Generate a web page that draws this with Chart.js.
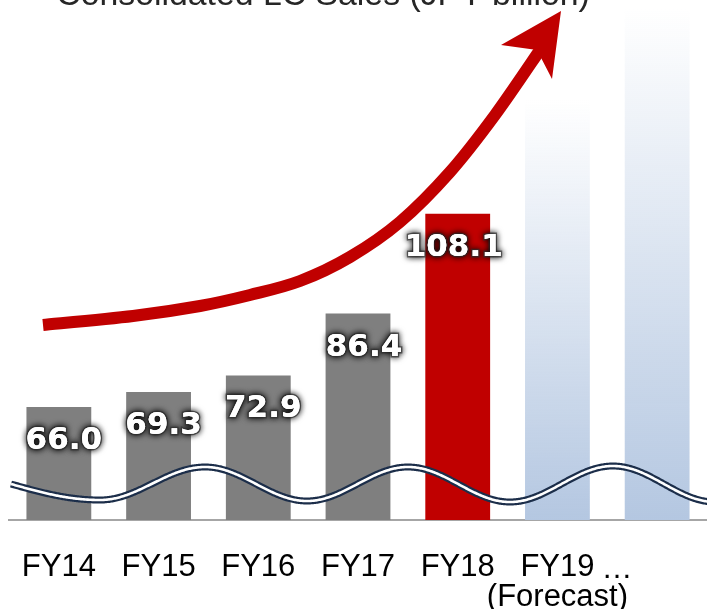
<!DOCTYPE html>
<html>
<head>
<meta charset="utf-8">
<script src="https://cdn.jsdelivr.net/npm/chart.js@4.4.1/dist/chart.umd.min.js"></script>
<style>
  html, body { margin: 0; padding: 0; background: #fff; }
  canvas { display: block; }
</style>
</head>
<body>
<canvas id="chart" width="707" height="609"></canvas>
<script>
// data (axis is broken, so it starts near 41)
const categories = ['FY14', 'FY15', 'FY16', 'FY17', 'FY18', ['FY19', '(Forecast)'], ''];
const actualSales = [66.0, 69.3, 72.9, 86.4, 108.1, null, null];
const forecastSales = [null, null, null, null, null, 133, 153];
const actualColors = ['#7f7f7f', '#7f7f7f', '#7f7f7f', '#7f7f7f', '#c00000'];
const titleText = 'Consolidated LC Sales (JPY billion)';
const yMin = 41.4;
const yMax = 154.7;

// label nudges (px) so the numbers sit like in the slide
const labelShift = [5, 5, 5, 6, -4];

// forecast bars fade from white at the top to light blue at the base
function forecastFill(ctx) {
  const chart = ctx.chart;
  const area = chart.chartArea;
  if (!area || ctx.raw == null) return '#b4c7e1';
  const top = chart.scales.y.getPixelForValue(ctx.raw);
  const g = chart.ctx.createLinearGradient(0, top, 0, area.bottom);
  g.addColorStop(0, 'rgba(180,199,225,0)');
  g.addColorStop(1, '#b4c7e1');
  return g;
}

function drawWave(c) {
  const knots = [[11, 484], [100, 500], [205, 467], [307, 501], [408, 467], [510, 502], [613, 466], [715, 502]];
  c.beginPath();
  for (let k = 0; k < knots.length - 1; k++) {
    const [x0, y0] = knots[k];
    const [x1, y1] = knots[k + 1];
    for (let x = x0; x <= x1; x += 1) {
      const t = (x - x0) / (x1 - x0);
      const e = k === 0 ? Math.sin(Math.PI / 2 * t) : (1 - Math.cos(Math.PI * t)) / 2;
      const y = y0 + (y1 - y0) * e;
      if (k === 0 && x === x0) c.moveTo(x, y); else c.lineTo(x, y);
    }
  }
  c.save();
  c.lineJoin = 'round';
  c.strokeStyle = '#1c2e4a';
  c.lineWidth = 7;
  c.stroke();
  c.strokeStyle = '#ffffff';
  c.lineWidth = 2.6;
  c.stroke();
  c.restore();
}

function drawArrow(c) {
  const pts = [[43, 325], [133, 316], [200, 306], [250, 295], [300, 281], [350, 257],
               [400, 222], [450, 172], [495, 115], [540, 50]];
  c.save();
  c.beginPath();
  c.moveTo(pts[0][0], pts[0][1]);
  for (let i = 0; i < pts.length - 1; i++) {
    const p0 = pts[Math.max(i - 1, 0)];
    const p1 = pts[i];
    const p2 = pts[i + 1];
    const p3 = pts[Math.min(i + 2, pts.length - 1)];
    c.bezierCurveTo(
      p1[0] + (p2[0] - p0[0]) / 6, p1[1] + (p2[1] - p0[1]) / 6,
      p2[0] - (p3[0] - p1[0]) / 6, p2[1] - (p3[1] - p1[1]) / 6,
      p2[0], p2[1]
    );
  }
  c.strokeStyle = '#c00000';
  c.lineWidth = 12;
  c.lineCap = 'butt';
  c.stroke();
  // arrow head
  c.beginPath();
  c.moveTo(561, 11);
  c.lineTo(501, 45);
  c.lineTo(537, 50);
  c.lineTo(552, 79);
  c.closePath();
  c.fillStyle = '#c00000';
  c.fill();
  c.restore();
}

function drawValueLabels(chart) {
  const c = chart.ctx;
  const meta = chart.getDatasetMeta(0);
  c.save();
  c.font = 'bold 31px "DejaVu Sans"';
  c.textAlign = 'center';
  c.textBaseline = 'middle';
  meta.data.forEach((bar, i) => {
    const v = actualSales[i];
    if (v == null) return;
    const x = bar.x + labelShift[i];
    const y = bar.y + 34;
    const txt = v.toFixed(1);
    c.shadowColor = 'rgba(0,0,0,0.95)';
    c.shadowBlur = 6;
    c.shadowOffsetX = 0;
    c.shadowOffsetY = 0;
    c.lineWidth = 3;
    c.strokeStyle = 'rgba(60,60,60,0.7)';
    c.strokeText(txt, x, y);
    c.fillStyle = '#ffffff';
    c.fillText(txt, x, y);
    c.shadowBlur = 0;
    c.fillText(txt, x, y);
  });
  c.restore();
}

function drawTitle(c) {
  c.save();
  c.font = '30px "Liberation Sans"';
  const w = c.measureText(titleText).width;
  const size = 30 * 533 / w;
  c.font = size.toFixed(1) + 'px "Liberation Sans"';
  c.fillStyle = '#262626';
  c.textAlign = 'center';
  c.textBaseline = 'alphabetic';
  c.fillText(titleText, 323, 5);
  c.restore();
}

function drawEllipsis(chart) {
  const c = chart.ctx;
  const xs = chart.scales.x;
  c.save();
  c.font = '31px "Liberation Sans"';
  const half = c.measureText('FY19').width / 2;
  c.fillStyle = '#000';
  c.textAlign = 'left';
  c.textBaseline = 'alphabetic';
  c.fillText('\u2026', xs.getPixelForValue(5) + half + 7, chart.chartArea.bottom + 58);
  c.restore();
}

const decorPlugin = {
  id: 'decor',
  afterDatasetsDraw(chart) {
    const c = chart.ctx;
    drawWave(c);
    drawArrow(c);
    drawValueLabels(chart);
    drawTitle(c);
    drawEllipsis(chart);
  }
};

new Chart(document.getElementById('chart'), {
  type: 'bar',
  data: {
    labels: categories,
    datasets: [
      {
        data: actualSales,
        backgroundColor: actualColors,
        borderWidth: 0,
        grouped: false,
        barPercentage: 0.65,
        categoryPercentage: 1.0
      },
      {
        data: forecastSales,
        backgroundColor: forecastFill,
        borderWidth: 0,
        grouped: false,
        barPercentage: 0.65,
        categoryPercentage: 1.0
      }
    ]
  },
  options: {
    responsive: false,
    animation: false,
    layout: { padding: { left: 9, right: 0, top: 0, bottom: 0 } },
    plugins: {
      legend: { display: false },
      tooltip: { enabled: false },
      title: { display: false }
    },
    scales: {
      x: {
        offset: true,
        grid: { display: false, drawTicks: false, tickLength: 0 },
        border: { display: true, color: '#a6a6a6', width: 2 },
        ticks: {
          color: '#000',
          font: { family: '"Liberation Sans"', size: 31, lineHeight: 0.97 },
          padding: 32,
          autoSkip: false,
          maxRotation: 0
        },
        afterFit(scale) {
          scale.height = 89;
          scale.paddingLeft = 0;
          scale.paddingRight = 0;
        }
      },
      y: {
        display: false,
        min: yMin,
        max: yMax
      }
    }
  },
  plugins: [decorPlugin]
});
</script>
</body>
</html>
